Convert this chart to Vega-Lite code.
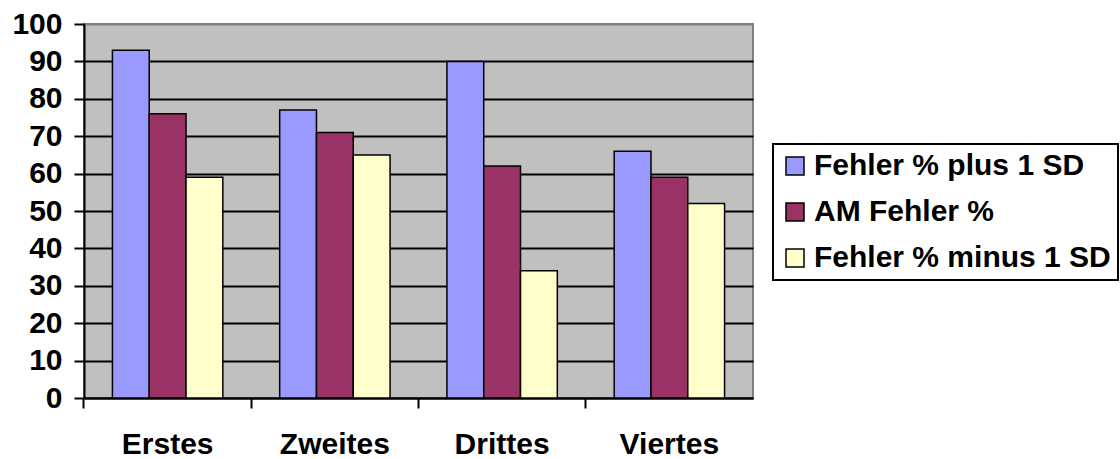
{
  "$schema": "https://vega.github.io/schema/vega-lite/v6.json",
  "width": 669,
  "height": 374,
  "autosize": "none",
  "padding": {"left": 84, "top": 24, "right": 367, "bottom": 61},
  "background": "white",
  "config": {
    "view": {"fill": "#C0C0C0", "stroke": "#808080", "strokeWidth": 2},
    "font": "Liberation Sans"
  },
  "data": {
    "values": [
      {"cat": "Erstes", "series": "Fehler % plus 1 SD", "value": 93},
      {"cat": "Erstes", "series": "AM Fehler %", "value": 76},
      {"cat": "Erstes", "series": "Fehler % minus 1 SD", "value": 59},
      {"cat": "Zweites", "series": "Fehler % plus 1 SD", "value": 77},
      {"cat": "Zweites", "series": "AM Fehler %", "value": 71},
      {"cat": "Zweites", "series": "Fehler % minus 1 SD", "value": 65},
      {"cat": "Drittes", "series": "Fehler % plus 1 SD", "value": 90},
      {"cat": "Drittes", "series": "AM Fehler %", "value": 62},
      {"cat": "Drittes", "series": "Fehler % minus 1 SD", "value": 34},
      {"cat": "Viertes", "series": "Fehler % plus 1 SD", "value": 66},
      {"cat": "Viertes", "series": "AM Fehler %", "value": 59},
      {"cat": "Viertes", "series": "Fehler % minus 1 SD", "value": 52}
    ]
  },
  "mark": {"type": "bar", "stroke": "black", "strokeWidth": 1.5},
  "encoding": {
    "x": {
      "field": "cat",
      "type": "nominal",
      "sort": ["Erstes", "Zweites", "Drittes", "Viertes"],
      "scale": {"paddingInner": 0.34, "paddingOuter": 0.17},
      "axis": {
        "title": null,
        "labelAngle": 0,
        "labelFont": "Liberation Sans",
        "labelFontSize": 30,
        "labelFontWeight": "bold",
        "labelColor": "black",
        "labelPadding": 21,
        "bandPosition": -0.2576,
        "ticks": true,
        "tickSize": 10,
        "tickColor": "black",
        "tickWidth": 2,
        "domainColor": "black",
        "domainWidth": 2,
        "grid": false
      }
    },
    "xOffset": {
      "field": "series",
      "type": "nominal",
      "sort": ["Fehler % plus 1 SD", "AM Fehler %", "Fehler % minus 1 SD"],
      "scale": {"paddingInner": 0, "paddingOuter": 0}
    },
    "y": {
      "field": "value",
      "type": "quantitative",
      "scale": {"domain": [0, 100], "nice": false},
      "axis": {
        "title": null,
        "values": [0, 10, 20, 30, 40, 50, 60, 70, 80, 90, 100],
        "labelFont": "Liberation Sans",
        "labelFontSize": 30,
        "labelFontWeight": "bold",
        "labelColor": "black",
        "labelPadding": 12,
        "tickSize": 10,
        "tickColor": "black",
        "tickWidth": 2,
        "domainColor": "black",
        "domainWidth": 2,
        "grid": true,
        "gridColor": {"condition": {"test": "datum.value == 100", "value": "#808080"}, "value": "black"},
        "gridWidth": 2,
        "gridOpacity": 1
      }
    },
    "color": {
      "field": "series",
      "type": "nominal",
      "sort": ["Fehler % plus 1 SD", "AM Fehler %", "Fehler % minus 1 SD"],
      "scale": {
        "domain": ["Fehler % plus 1 SD", "AM Fehler %", "Fehler % minus 1 SD"],
        "range": ["#9999FF", "#993366", "#FFFFCC"]
      },
      "legend": {
        "title": null,
        "orient": "none",
        "legendX": 689,
        "legendY": 120,
        "strokeColor": "black",
        "fillColor": "white",
        "padding": 7,
        "symbolType": "square",
        "symbolSize": 324,
        "symbolStrokeColor": "black",
        "symbolStrokeWidth": 1.5,
        "symbolOpacity": 1,
        "labelFont": "Liberation Sans",
        "labelFontSize": 30,
        "labelFontWeight": "bold",
        "labelColor": "black",
        "labelOffset": 4,
        "labelLimit": 400,
        "rowPadding": 16,
        "encode": {"legend": {"update": {"strokeWidth": {"value": 2}}}}
      }
    }
  }
}
